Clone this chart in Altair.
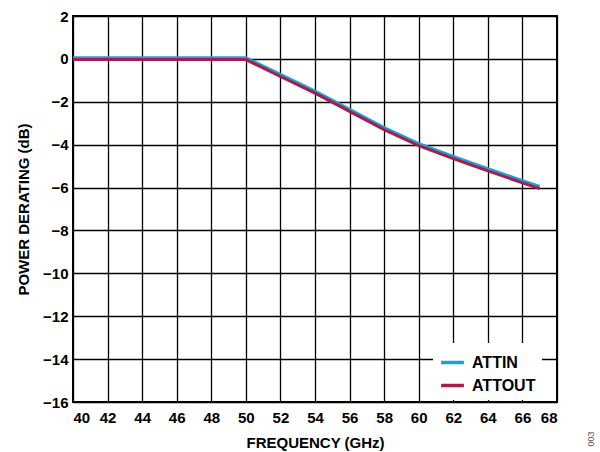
import altair as alt
import pandas as pd

freq = [40, 50, 52, 54, 56, 58, 60, 62, 64, 66, 67]
attin = [0.05, 0.05, -0.72, -1.5, -2.35, -3.2, -3.95, -4.55, -5.12, -5.68, -5.95]
attout = [-0.03, -0.03, -0.82, -1.6, -2.45, -3.3, -4.05, -4.65, -5.22, -5.78, -6.05]
series = ["ATTIN", "ATTOUT"]
colors = ["#1aa3d9", "#a81c4c"]

rows = []
for f, a, b in zip(freq, attin, attout):
    rows.append({"f": f, "v": a, "s": "ATTIN"})
    rows.append({"f": f, "v": b, "s": "ATTOUT"})
df = pd.DataFrame(rows)

FONT = "Liberation Sans"

lines = alt.Chart(df).mark_line(strokeWidth=3).encode(
    x=alt.X("f:Q", scale=alt.Scale(domain=[40, 68], nice=False, zero=False),
            axis=alt.Axis(values=list(range(40, 70, 2)), title="FREQUENCY (GHz)",
                          titlePadding=10)),
    y=alt.Y("v:Q", scale=alt.Scale(domain=[-16, 2], nice=False, zero=False),
            axis=alt.Axis(values=list(range(-16, 4, 2)), title="POWER DERATING (dB)",
                          titlePadding=11)),
    color=alt.Color("s:N", scale=alt.Scale(domain=series, range=colors),
                    legend=alt.Legend(title=None, orient="none", legendX=360, legendY=327,
                                      fillColor="white", padding=6,
                                      symbolType="stroke", symbolStrokeWidth=3.5,
                                      symbolSize=520, labelFontSize=16,
                                      labelFont=FONT, labelFontWeight="bold",
                                      labelColor="black", rowPadding=1,
                                      labelOffset=6)),
    order=alt.Order("s:N"),
)

note = alt.Chart(pd.DataFrame({"t": ["003"]})).mark_text(
    angle=270, fontSize=9, font=FONT, color="#555555"
).encode(x=alt.value(518), y=alt.value(423), text="t:N")

chart = alt.layer(lines, note).properties(
    width=484, height=386,
    padding={"left": 73, "top": 16, "right": 43, "bottom": 50},
    autosize=alt.AutoSizeParams(type="none"),
).configure_view(
    stroke="black", strokeWidth=2
).configure_axis(
    grid=True, gridColor="black", gridWidth=1.3, gridOpacity=1,
    domain=False, ticks=False,
    labelFont=FONT, labelFontSize=15, labelFontWeight="bold", labelColor="black",
    titleFont=FONT, titleFontSize=15, titleFontWeight="bold", titleColor="black",
    labelPadding=5,
).configure_axisX(labelPadding=8)

chart.save("out.html", embed_options={"renderer": "svg", "actions": False})
